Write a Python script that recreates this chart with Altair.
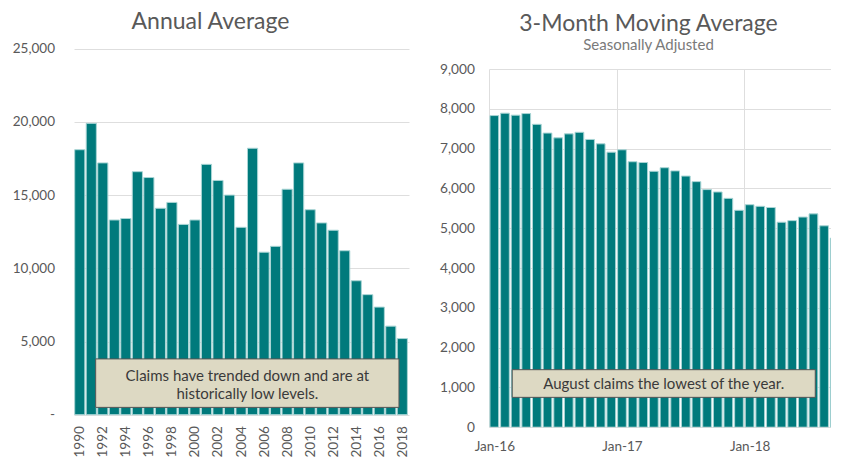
import altair as alt
import pandas as pd

# ---------------- data ----------------
years = list(range(1990, 2019))
annual_claims = [18100, 19900, 17200, 13300, 13400, 16600, 16200, 14100, 14500, 13000,
                 13300, 17100, 16000, 15000, 12800, 18200, 11100, 11500, 15400, 17200,
                 14000, 13100, 12600, 11200, 9150, 8200, 7350, 6050, 5200]

months = ["Jan-16", "Feb-16", "Mar-16", "Apr-16", "May-16", "Jun-16", "Jul-16", "Aug-16",
          "Sep-16", "Oct-16", "Nov-16", "Dec-16",
          "Jan-17", "Feb-17", "Mar-17", "Apr-17", "May-17", "Jun-17", "Jul-17", "Aug-17",
          "Sep-17", "Oct-17", "Nov-17", "Dec-17",
          "Jan-18", "Feb-18", "Mar-18", "Apr-18", "May-18", "Jun-18", "Jul-18", "Aug-18",
          "Sep-18"]
monthly_claims = [7830, 7890, 7840, 7880, 7610, 7390, 7270, 7370, 7410, 7230, 7120, 6910,
                  6970, 6670, 6650, 6430, 6520, 6440, 6310, 6170, 5970, 5910, 5750, 5450,
                  5590, 5550, 5520, 5150, 5190, 5280, 5360, 5060, 4750]
month_ticks = ["Jan-16", "Jan-17", "Jan-18"]

left_ticks_y = [0, 5000, 10000, 15000, 20000, 25000]
right_ticks_y = [0, 1000, 2000, 3000, 4000, 5000, 6000, 7000, 8000, 9000]
year_ticks = list(range(1990, 2019, 2))

left_note = ["Claims have trended down and are at", "historically low levels."]
right_note = ["August claims the lowest of the year."]
# note boxes in data units: x0, x1, y0, y1; note text anchor (x, y of first line)
left_box = [1991.38, 2017.71, 500, 3810]
left_note_xy = [2004.55, 2660]
right_box = [2.18, 30.67, 750, 1445]
right_note_xy = [16.42, 1097]

# ---------------- style ----------------
TEAL = "#007A7C"
GLOW = "#a9d5d5"
FONT = "Lato"
TXT = "#595959"
GRID = "#dedede"
BOXFILL = "#DDD9C3"

# ---------------- left chart ----------------
ann = pd.DataFrame({"year": years, "claims": annual_claims})
ann["x0"] = ann["year"] - 0.44
ann["x1"] = ann["year"] + 0.44
ann["base"] = 0

LH = 345.7  # plot height; panel tops are shared with the right chart
xl_scale = alt.Scale(domain=[1989.5, 2018.58], nice=False, zero=False)
yl_scale = alt.Scale(domain=[0, 25000], nice=False, range=[LH, -20.3])

xl_axis = alt.Axis(values=year_ticks, format="d", labelAngle=270, title=None,
                   grid=False, ticks=False, domain=False, labelPadding=11,
                   labelFlush=False, labelOverlap=False,
                   labelFontSize=13.5, labelColor=TXT, labelFont=FONT)
yl_axis = alt.Axis(values=left_ticks_y, title=None, grid=True, gridColor=GRID,
                   ticks=False, domain=False, labelPadding=19.5, labelOverlap=False,
                   labelExpr="datum.value == 0 ? '-\u00a0\u00a0\u00a0\u00a0' : format(datum.value, ',')",
                   labelFontSize=13.5, labelColor=TXT, labelFont=FONT)

left_bars = alt.Chart(ann).mark_bar(color=TEAL, stroke=GLOW, strokeWidth=1).encode(
    x=alt.X("x0:Q", scale=xl_scale, axis=xl_axis),
    x2="x1:Q",
    y=alt.Y("claims:Q", scale=yl_scale, axis=yl_axis),
    y2="base:Q",
)

lbox_df = pd.DataFrame({"x0": [left_box[0]], "x1": [left_box[1]],
                        "claims": [left_box[2]], "y1": [left_box[3]]})
left_rect = alt.Chart(lbox_df).mark_rect(fill=BOXFILL, stroke="#555555", strokeWidth=1).encode(
    x=alt.X("x0:Q", scale=xl_scale, axis=xl_axis), x2="x1:Q",
    y=alt.Y("claims:Q", scale=yl_scale, axis=yl_axis), y2="y1:Q")

lnote_df = pd.DataFrame({"x0": [left_note_xy[0]], "claims": [left_note_xy[1]],
                         "t": [left_note]})
left_text = alt.Chart(lnote_df).mark_text(font=FONT, fontSize=15, color="#3a3a3a",
                                          align="center", baseline="middle",
                                          lineHeight=18).encode(
    x=alt.X("x0:Q", scale=xl_scale, axis=xl_axis),
    y=alt.Y("claims:Q", scale=yl_scale, axis=yl_axis), text="t")

left = alt.layer(left_bars, left_rect, left_text).properties(
    width=335, height=LH,
    title=alt.TitleParams("Annual Average", font=FONT, fontSize=23, fontWeight="normal",
                          color=TXT, anchor="middle", frame="group", dx=-31, offset=7.8))

# ---------------- right chart ----------------
mon = pd.DataFrame({"i": list(range(len(months))), "month": months, "claims": monthly_claims})
mon["x0"] = mon["i"] + 0.09
mon["x1"] = mon["i"] + 0.91
mon["base"] = 0

tick_idx = [months.index(t) for t in month_ticks]
expr = "''"
for idx, lab in reversed(list(zip(tick_idx, month_ticks))):
    expr = f"datum.value == {idx} ? '{lab}' : ({expr})"

xr_scale = alt.Scale(domain=[0, 32.15], nice=False, zero=False)
yr_scale = alt.Scale(domain=[0, 9000], nice=False)

xr_axis = alt.Axis(values=tick_idx, labelExpr=expr, title=None, grid=True,
                   gridColor=GRID, ticks=False, domain=False, labelPadding=12,
                   labelOffset=5.32, labelFlush=False, labelOverlap=False,
                   labelFontSize=13.5, labelColor=TXT, labelFont=FONT)
yr_axis = alt.Axis(values=right_ticks_y, title=None, grid=True,
                   gridColor=GRID, ticks=False, domain=False, labelPadding=14.6,
                   labelOverlap=False, labelExpr="format(datum.value, ',')",
                   labelFontSize=13.7, labelColor=TXT, labelFont=FONT)

right_bars = alt.Chart(mon).mark_bar(color=TEAL, stroke=GLOW, strokeWidth=1, clip=True).encode(
    x=alt.X("x0:Q", scale=xr_scale, axis=xr_axis),
    x2="x1:Q",
    y=alt.Y("claims:Q", scale=yr_scale, axis=yr_axis),
    y2="base:Q",
)

rbox_df = pd.DataFrame({"x0": [right_box[0]], "x1": [right_box[1]],
                        "claims": [right_box[2]], "y1": [right_box[3]]})
right_rect = alt.Chart(rbox_df).mark_rect(fill=BOXFILL, stroke="#555555", strokeWidth=1).encode(
    x=alt.X("x0:Q", scale=xr_scale, axis=xr_axis), x2="x1:Q",
    y=alt.Y("claims:Q", scale=yr_scale, axis=yr_axis), y2="y1:Q")

rnote_df = pd.DataFrame({"x0": [right_note_xy[0]], "claims": [right_note_xy[1]],
                         "t": right_note})
right_text = alt.Chart(rnote_df).mark_text(font=FONT, fontSize=15, color="#3a3a3a",
                                           align="center", baseline="middle").encode(
    x=alt.X("x0:Q", scale=xr_scale, axis=xr_axis),
    y=alt.Y("claims:Q", scale=yr_scale, axis=yr_axis), text="t")

right = alt.layer(right_bars, right_rect, right_text).properties(
    width=342, height=358.2,
    title=alt.TitleParams("3-Month Moving Average", subtitle="Seasonally Adjusted",
                          font=FONT, fontSize=23, fontWeight="normal", color=TXT,
                          subtitleFont=FONT, subtitleFontSize=15, subtitleColor="#7a7a7a",
                          subtitlePadding=2,
                          anchor="middle", frame="group", dx=-11.5, offset=8.8))

chart = alt.hconcat(left, right, spacing=30).properties(
    padding={"left": 4, "right": 0, "top": 2, "bottom": 0}
).configure_view(stroke=None)

chart.save("out.html", embed_options={"renderer": "svg", "actions": False})
